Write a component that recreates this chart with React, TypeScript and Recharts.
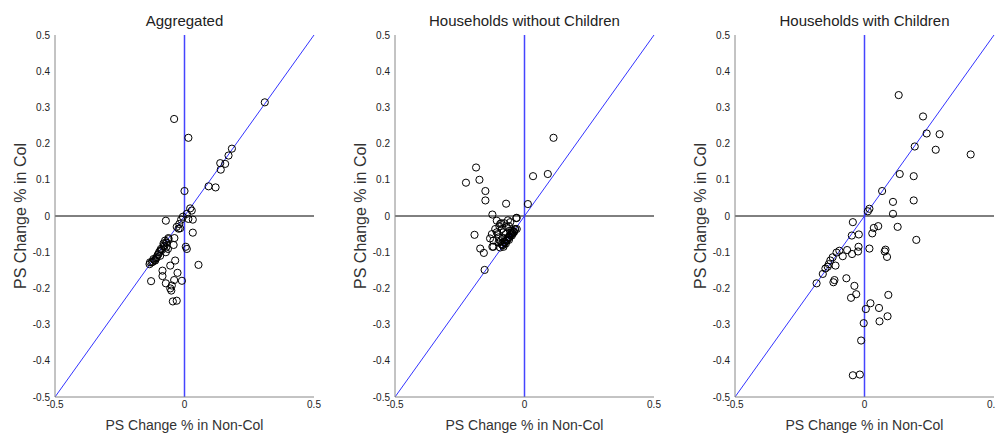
import {
  ScatterChart,
  Scatter,
  XAxis,
  YAxis,
  ReferenceLine,
} from 'recharts'

// panel titles
const titles = ['Aggregated', 'Households without Children', 'Households with Children']

const xTicks = [-0.5, 0, 0.5]
const yTicks = [-0.5, -0.4, -0.3, -0.2, -0.1, 0, 0.1, 0.2, 0.3, 0.4, 0.5]

// Aggregated
const aggX = [
  0.31, -0.04, 0.015, 0.183, 0.17, 0.138, 0.157, 0.14, 0.093, 0.12, 0.0, 0.022, 0.028, 0.009,
  -0.006, -0.013, 0.015, 0.032, -0.072, -0.017, -0.023, 0.032, -0.039, -0.062, -0.075, -0.042,
  -0.081, -0.064, 0.005, 0.009, -0.094, -0.1, -0.107, -0.116, -0.126, -0.135, -0.072, -0.036,
  -0.055, 0.054, -0.085, -0.027, -0.085, -0.04, -0.01, -0.129, -0.072, -0.049, -0.055, -0.051,
  -0.045, -0.03, -0.133, -0.12, -0.091, -0.071, -0.062, -0.071, -0.094, -0.113, -0.081,
  -0.104, -0.098, -0.088, -0.078, -0.068, -0.11, -0.122, -0.03, -0.02,
]
const aggY = [
  0.314, 0.268, 0.216, 0.186, 0.167, 0.146, 0.144, 0.128, 0.082, 0.079, 0.069, 0.021, 0.015, 0.006,
  -0.002, -0.01, -0.008, -0.01, -0.013, -0.034, -0.035, -0.046, -0.061, -0.061, -0.068, -0.08,
  -0.076, -0.091, -0.085, -0.091, -0.096, -0.105, -0.114, -0.122, -0.128, -0.133, -0.1, -0.123,
  -0.137, -0.135, -0.151, -0.157, -0.166, -0.177, -0.179, -0.18, -0.186, -0.192, -0.2, -0.206,
  -0.236, -0.234, -0.128, -0.119, -0.091, -0.073, -0.064, -0.087, -0.11, -0.123, -0.082,
  -0.108, -0.1, -0.094, -0.084, -0.074, -0.117, -0.126, -0.03, -0.022,
]

// Households without children
const noKidsX = [
  0.112, 0.09, 0.033, 0.013, -0.071, -0.187, -0.174, -0.226, -0.151, -0.151, -0.124, -0.03,
  -0.193, -0.171, -0.157, -0.154, -0.124, -0.107, -0.094, -0.113, -0.126, -0.133, -0.12, -0.1,
  -0.081, -0.068, -0.055, -0.032, -0.049, -0.036, -0.062, -0.075, -0.081, -0.094, -0.12, -0.049,
  -0.068, -0.042, -0.03, -0.1, -0.088, -0.107, -0.085, -0.078, -0.07, -0.062, -0.055, -0.048,
  -0.042, -0.037, -0.088, -0.082, -0.076, -0.072, -0.066, -0.06, -0.058, -0.052, -0.046, -0.04,
  -0.09, -0.097, -0.103, -0.078, -0.064, -0.072, -0.056, -0.084, -0.092, -0.06,
]
const noKidsY = [
  0.216, 0.116, 0.11, 0.033, 0.034, 0.134, 0.1, 0.092, 0.069, 0.043, 0.004, -0.005, -0.052,
  -0.09, -0.102, -0.149, -0.085, -0.013, -0.022, -0.036, -0.05, -0.062, -0.068, -0.059, -0.045,
  -0.031, -0.017, -0.006, -0.04, -0.036, -0.059, -0.073, -0.085, -0.087, -0.085, -0.054, -0.068,
  -0.045, -0.036, -0.073, -0.036, -0.045, -0.08, -0.074, -0.067, -0.06, -0.053, -0.047, -0.042,
  -0.037, -0.078, -0.08, -0.071, -0.076, -0.064, -0.066, -0.058, -0.05, -0.049, -0.044,
  -0.02, -0.028, -0.05, -0.02, -0.012, -0.05, -0.04, -0.06, -0.07, -0.028,
]

// Households with children
const kidsX = [
  0.132, 0.226, 0.24, 0.29, 0.194, 0.275, 0.41, 0.136, 0.19, 0.068, 0.19, 0.11, 0.11, 0.019,
  0.013, 0.128, 0.053, 0.036, 0.03, 0.2, -0.045, -0.049, -0.022, -0.023, 0.019, -0.025, -0.048,
  -0.067, -0.084, -0.097, -0.108, 0.081, 0.078, 0.087, -0.123, -0.132, -0.138, -0.142, -0.151,
  -0.161, -0.185, -0.112, -0.12, -0.116, -0.07, -0.039, -0.032, -0.052, 0.092, 0.023, 0.005,
  0.056, 0.089, 0.058, -0.003, -0.013, -0.045, -0.018,
]
const kidsY = [
  0.334, 0.275, 0.228, 0.226, 0.192, 0.183, 0.17, 0.116, 0.11, 0.069, 0.043, 0.039, 0.006, 0.02,
  0.013, -0.03, -0.028, -0.033, -0.048, -0.066, -0.017, -0.054, -0.051, -0.085, -0.09, -0.098,
  -0.105, -0.094, -0.111, -0.096, -0.101, -0.093, -0.098, -0.113, -0.114, -0.123, -0.133, -0.14,
  -0.145, -0.16, -0.186, -0.137, -0.183, -0.177, -0.172, -0.193, -0.216, -0.226, -0.218, -0.241,
  -0.257, -0.254, -0.277, -0.291, -0.296, -0.344, -0.44, -0.438,
]

const panels = [
  { xs: aggX, ys: aggY },
  { xs: noKidsX, ys: noKidsY },
  { xs: kidsX, ys: kidsY },
]

const tickFont = { fontSize: 10, fill: '#222', fontFamily: '"Liberation Sans Narrow", "Liberation Sans", Arial, sans-serif' }
const xLabelFont = { fontSize: 14, fill: '#333', fontFamily: '"Liberation Sans", Arial, sans-serif' }
const yLabelFont = { fontSize: 16, fill: '#333', fontFamily: '"Liberation Sans", Arial, sans-serif' }

const Ring = (props: any) => (
  <circle cx={props.cx} cy={props.cy} r={3.6} fill="none" stroke="#000" strokeWidth={1} />
)

function Panel({ title, xs, ys, left }: { title: string; xs: number[]; ys: number[]; left: number }) {
  const data = xs.map((x, i) => ({ x, y: ys[i] }))
  return (
    <div style={{ position: 'absolute', left, top: 0, width: 340, height: 433 }}>
      <div
        style={{
          position: 'absolute',
          left: 55,
          width: 259,
          top: 12,
          textAlign: 'center',
          fontSize: 15,
          color: '#222',
          fontFamily: '"Liberation Sans", Arial, sans-serif',
          whiteSpace: 'nowrap',
        }}
      >
        {title}
      </div>
      <ScatterChart width={340} height={433} margin={{ top: 35, right: 26, bottom: 0, left: 0 }}>
        <XAxis
          type="number"
          dataKey="x"
          domain={[-0.5, 0.5]}
          ticks={xTicks}
          interval={0}
          stroke="#888"
          tickLine={false}
          tickSize={3}
          tickMargin={1}
          height={36}
          tick={tickFont}
          label={{ value: 'PS Change % in Non-Col', position: 'insideBottom', offset: 3, style: xLabelFont }}
        />
        <YAxis
          type="number"
          dataKey="y"
          domain={[-0.5, 0.5]}
          ticks={yTicks}
          interval={0}
          stroke="#888"
          tickLine={false}
          tickSize={3}
          tickMargin={2}
          width={55}
          tick={tickFont}
          label={{
            value: 'PS Change % in Col',
            angle: -90,
            position: 'insideLeft',
            offset: 20,
            style: { ...yLabelFont, textAnchor: 'middle' },
          }}
        />
        <ReferenceLine y={0} stroke="#000" strokeWidth={1} />
        <ReferenceLine x={0} stroke="#4444ff" strokeWidth={1.5} />
        <ReferenceLine
          segment={[
            { x: -0.5, y: -0.5 },
            { x: 0.5, y: 0.5 },
          ]}
          stroke="#3333ff"
          strokeWidth={1}
        />
        <Scatter data={data} shape={Ring} isAnimationActive={false} />
      </ScatterChart>
    </div>
  )
}

export default function App() {
  return (
    <div
      style={{
        position: 'absolute',
        left: 0,
        top: 0,
        width: 995,
        height: 433,
        overflow: 'hidden',
        background: '#fff',
      }}
    >
      {panels.map((p, i) => (
        <Panel key={titles[i]} title={titles[i]} xs={p.xs} ys={p.ys} left={i * 340} />
      ))}
    </div>
  )
}
